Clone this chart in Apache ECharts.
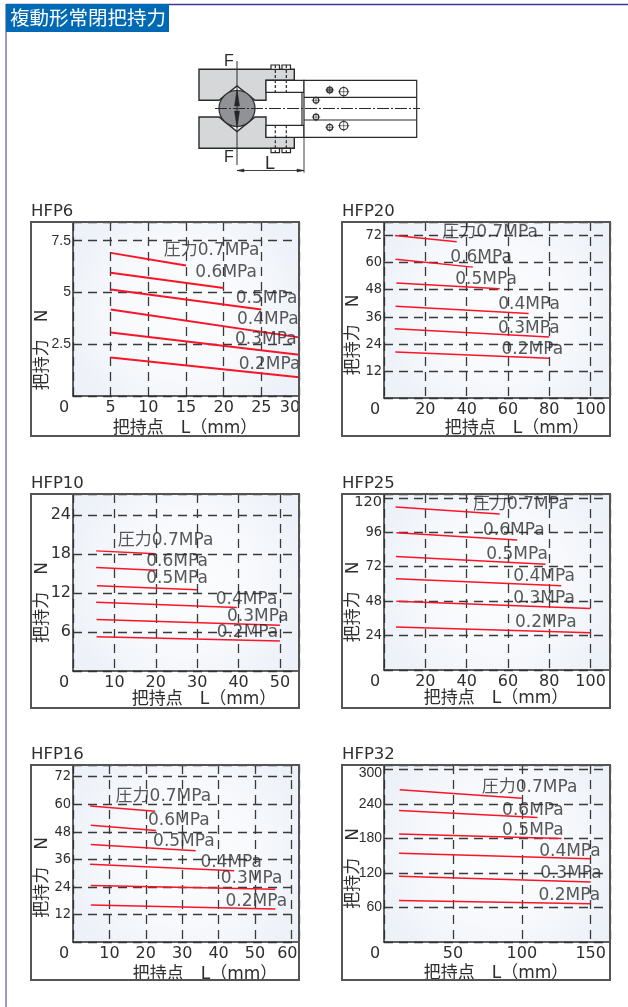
<!DOCTYPE html>
<html>
<head>
<meta charset="utf-8">
<style>html,body{margin:0;padding:0;background:#fff}#main{width:628px;height:1007px}</style>
<script src="https://cdn.jsdelivr.net/npm/echarts@6/dist/echarts.min.js"></script>
</head>
<body>
<div id="main"></div>
<script>
const pressureNames = ['圧力0.7MPa', '0.6MPa', '0.5MPa', '0.4MPa', '0.3MPa', '0.2MPa'];

// each line: [L start, N start, L end, N end]
const hfp6Lines = [[5, 6.91, 15, 6.30], [5, 5.95, 20, 5.21], [5, 5.14, 25, 4.18], [5, 4.18, 30, 2.83], [5, 3.07, 30, 1.99], [5, 1.86, 30, 0.90]];
const hfp20Lines = [[5.3, 72, 35.2, 69.2], [5.6, 61.5, 43, 58], [6, 51, 56, 48.4], [5.6, 40.7, 70, 37.4], [5.2, 30.7, 80, 27], [5.5, 20.4, 80, 17.6]];
const hfp10Lines = [[5.6, 18.46, 20, 18], [5.6, 15.9, 20, 15.5], [5.8, 13.1, 30, 12.5], [5.6, 10.56, 39.6, 9.74], [5.7, 7.9, 50, 7.03], [5.7, 5.28, 50, 4.6]];
const hfp25Lines = [[5.6, 113.7, 56, 108.8], [6, 95.6, 64.5, 90.7], [5.8, 79.1, 78.2, 73.8], [5.8, 63.6, 85.8, 58.7], [6, 48, 100, 42.9], [5.8, 29.9, 100, 26]];
const hfp16Lines = [[4.7, 59.2, 22.6, 57], [4.9, 50.9, 22.8, 48.6], [4.9, 42.5, 33.7, 39.7], [4.7, 33.9, 44.3, 31], [4.9, 24.6, 55.6, 23], [4.9, 16.1, 55.6, 14.4]];
const hfp32Lines = [[11.4, 265, 100, 250], [10.9, 228.7, 111.4, 216.5], [10.9, 188, 128.8, 180], [10.9, 154.4, 150, 145], [10.9, 114.3, 150, 104.5], [10.9, 72, 150, 66.7]];

// where each pressure text starts, in axis values
const hfp6Notes = [[12.04, 7.04], [16.24, 5.98], [21.6, 4.69], [21.77, 3.70], [21.5, 2.70], [22, 1.51]];
const hfp20Notes = [[28.2, 73.5], [32.1, 62.3], [34.5, 52.5], [55.3, 41.2], [55.2, 30.8], [56.9, 21.4]];
const hfp10Notes = [[10.8, 20.1], [17.7, 16.8], [17.7, 14.2], [34.5, 11], [37.2, 8.4], [34.7, 5.95]];
const hfp25Notes = [[43.1, 115.3], [47.9, 97], [49.5, 80.3], [62.6, 65], [62.6, 49.7], [63.4, 33.2]];
const hfp16Notes = [[11.7, 63.3], [20.6, 53.1], [22, 43.9], [35, 34.6], [40.6, 27.8], [41.9, 17.7]];
const hfp32Notes = [[70.9, 268.7], [85.7, 229.3], [85.7, 194.4], [112.6, 157.9], [113.3, 118.4], [112.1, 81.3]];

const CJK = '"DejaVu Sans","Noto Sans CJK JP",sans-serif';
const TXT = '#2e2e2e';
const WIDE = '"DejaVu Sans",sans-serif';
const COND = '"DejaVu Sans Condensed","Liberation Sans Narrow",sans-serif';
const NARROW = '"Liberation Sans Narrow",sans-serif';

const panels = [
  {title: 'HFP6', lines: hfp6Lines, notes: hfp6Notes, box: [31, 222, 299, 436], left: 73, bottom: 396,
   xMax: 30, xStep: 5, yMax: 8.4, yStep: 2.5, yFont: NARROW, ySize: 14, lw: 2, yPad: 82, xPad: 2, xGap: 24, xLast: 30},
  {title: 'HFP20', lines: hfp20Lines, notes: hfp20Notes, box: [342, 222, 610, 436], left: 384, bottom: 398,
   xMax: 109.4, xStep: 20, yMax: 78, yStep: 12, yFont: COND, ySize: 14.5, lw: 1.5, yPad: 50, xPad: -40, xGap: 22},
  {title: 'HFP10', lines: hfp10Lines, notes: hfp10Notes, box: [31, 494, 299, 708], left: 73, bottom: 671,
   xMax: 54.6, xStep: 10, yMax: 27.2, yStep: 6, yFont: WIDE, ySize: 16, lw: 1.5, yPad: 40, xPad: -36, xGap: 20},
  {title: 'HFP25', lines: hfp25Lines, notes: hfp25Notes, box: [342, 494, 610, 708], left: 384, bottom: 670,
   xMax: 109.4, xStep: 20, yMax: 122.7, yStep: 24, yFont: COND, ySize: 14.5, lw: 1.5, yPad: 40, xPad: 2, xGap: 20, yTop: 120},
  {title: 'HFP16', lines: hfp16Lines, notes: hfp16Notes, box: [31, 765, 299, 980], left: 73, bottom: 942,
   xMax: 62.1, xStep: 10, yMax: 77.1, yStep: 12, yFont: COND, ySize: 14.5, lw: 1.5, yPad: 48, xPad: -38, xGap: 24, xLast: 60},
  {title: 'HFP32', lines: hfp32Lines, notes: hfp32Notes, box: [342, 765, 610, 980], left: 384, bottom: 942,
   xMax: 164, xStep: 50, yMax: 308, yStep: 60, yFont: NARROW, ySize: 14, lw: 1.5, yPad: 30, xPad: 2, xGap: 23, yTop: 300}
];

const gridLine = {show: true, lineStyle: {color: '#3a3a3a', width: 1.3, type: [9, 6]}};
const plotFill = {type: 'radial', x: 0.5, y: 0.5, r: 0.72, colorStops: [
  {offset: 0, color: '#fcfdfe'}, {offset: 0.55, color: '#f7f9fc'}, {offset: 1, color: '#edf1f8'}]};

const grids = [], xAxes = [], yAxes = [], series = [], graphics = [];

panels.forEach((p, i) => {
  const [x0, y0, x1, y1] = p.box;
  grids.push({left: p.left, top: y0, width: x1 - p.left, height: p.bottom - y0,
    show: true, backgroundColor: plotFill, borderWidth: 0});
  xAxes.push({
    gridIndex: i, type: 'value', min: 0, max: p.xMax, interval: p.xStep,
    name: '把持点　L（mm）', nameLocation: 'middle', nameGap: p.xGap, nameMoveOverlap: false,
    nameTextStyle: {fontFamily: CJK, fontSize: 17, color: TXT, padding: p.xPad > 0 ? [0, p.xPad, 0, 0] : [0, 0, 0, -p.xPad]},
    axisLine: {show: true, onZero: false, lineStyle: {color: '#2f2f2f', width: 1.5}},
    axisTick: {show: false}, splitLine: gridLine,
    axisLabel: {
      margin: 4, fontFamily: WIDE, fontSize: 16, color: TXT, showMinLabel: true, hideOverlap: false,
      // the 0 and the last label sit left of their tick in the original
      formatter: v => v === 0 ? '{z|0}' : v === p.xLast ? '{e|' + v + '}' : (v % p.xStep ? '' : String(v)),
      rich: {
        z: {padding: [0, 18, 0, 0], fontFamily: WIDE, fontSize: 16, color: TXT},
        e: {padding: [0, p.title === 'HFP6' ? 18 : 8, 0, 0], fontFamily: WIDE, fontSize: 16, color: TXT}
      }
    }
  });
  yAxes.push({
    gridIndex: i, type: 'value', min: 0, max: p.yMax, interval: p.yStep,
    name: '把持力　N', nameLocation: 'middle', nameRotate: 90, nameGap: 22, nameMoveOverlap: false,
    nameTextStyle: {fontFamily: CJK, fontSize: 17, color: TXT, padding: [0, p.yPad, 0, 0]},
    axisLine: {show: true, onZero: false, lineStyle: {color: '#2f2f2f', width: 1.5}},
    axisTick: {show: false}, splitLine: gridLine,
    axisLabel: {
      margin: 2, showMinLabel: false, hideOverlap: false, fontFamily: p.yFont, fontSize: p.ySize, color: TXT,
      formatter: v => v === p.yTop ? '{t|' + v + '}' : (Math.abs(v / p.yStep - Math.round(v / p.yStep)) > 1e-6 ? '' : String(v)),
      rich: {t: {padding: [8, 0, 0, 0], fontFamily: p.title === 'HFP25' ? WIDE : p.yFont, fontSize: p.ySize, color: TXT}}
    }
  });
  p.lines.forEach((l, j) => {
    series.push({
      name: p.title + ' ' + pressureNames[j], type: 'line', xAxisIndex: i, yAxisIndex: i,
      showSymbol: false, silent: true, z: 3, animation: false,
      lineStyle: {color: '#fa1428', width: p.lw},
      data: [[l[0], l[1]], [l[2], l[3]]]
    });
  });
  series.push({
    type: 'scatter', xAxisIndex: i, yAxisIndex: i, symbolSize: 0, silent: true, z: 4, animation: false,
    label: {show: true, position: 'right', distance: 0, fontFamily: CJK, fontSize: 17, color: TXT,
      formatter: o => pressureNames[o.dataIndex]},
    data: p.notes
  });
  graphics.push({type: 'rect', z: 20, silent: true, shape: {x: x0, y: y0, width: x1 - x0, height: y1 - y0},
    style: {fill: 'none', stroke: '#555', lineWidth: 2}});
  graphics.push({type: 'text', z: 20, silent: true, x: x0, y: y0 - 19,
    style: {text: p.title, font: '16.5px ' + WIDE, fill: TXT}});
});

// page frame and heading
graphics.push(
  {type: 'line', silent: true, shape: {x1: 6, y1: 4.5, x2: 628, y2: 4.5}, style: {stroke: '#3a3a9a', lineWidth: 1.5}},
  {type: 'line', silent: true, shape: {x1: 6, y1: 4, x2: 6, y2: 1007}, style: {stroke: '#7a7ac4', lineWidth: 1.5}},
  {type: 'rect', silent: true, shape: {x: 6, y: 4, width: 163, height: 28}, style: {fill: '#0069b4'}},
  {type: 'text', silent: true, x: 10, y: 7.5, style: {text: '複動形常閉把持力', font: '19.5px "Noto Sans CJK JP"', fill: '#fff'}}
);

// the gripper drawing, in its own local coordinates (offset 190,50)
const ink = '#2a2a2a';
const part = (shape, fill, lineWidth) => ({type: 'polygon', shape: {points: shape}, style: {fill: fill, stroke: ink, lineWidth: lineWidth || 1.2}});
const ln = (x1, y1, x2, y2, extra) => ({type: 'line', shape: {x1, y1, x2, y2}, style: Object.assign({stroke: ink, lineWidth: 1.2}, extra)});
const ring = (cx, cy, r, fill) => ({type: 'circle', shape: {cx, cy, r}, style: {fill: fill, stroke: ink, lineWidth: 1.2}});
const box = (x, y, w, h, fill) => ({type: 'rect', shape: {x, y, width: w, height: h}, style: {fill: fill, stroke: ink, lineWidth: 1.2}});
const jawGrey = '#d5d7d9';
const screws = [[139.7, 40, 3, '#8a8a8a'], [153.7, 41.7, 4.2, '#fff'], [126, 50.3, 2.8, '#fff'], [126, 67, 2.8, '#fff'], [139.7, 77.3, 3, '#fff'], [153.7, 75.7, 4.2, '#fff']];
const drawing = [
  part([[9, 19.3], [104.3, 19.3], [104.3, 30.3], [76, 30.3], [76, 50.3], [65, 50.3], [47, 36], [29, 50.3], [9, 50.3]], jawGrey, 1.4),
  part([[9, 98.3], [104.3, 98.3], [104.3, 87.3], [76, 87.3], [76, 67], [65, 67], [47, 81.5], [29, 67], [9, 67]], jawGrey, 1.4),
  box(76, 30.3, 38, 12, '#fff'), box(76, 75.3, 38, 12, '#fff'),
  box(114, 30.3, 112.7, 57, '#fff'),
  ln(114, 47.3, 226.7, 47.3), ln(114, 70, 226.7, 70),
  ln(112, 42.3, 112, 75.3),
  ring(47, 58.5, 18, '#909296'),
  part([[47, 39.5], [49.5, 56], [44.5, 56]], '#222', 0.5),
  part([[47, 78], [49.5, 61], [44.5, 61]], '#222', 0.5),
  box(81, 15, 8.5, 4.3, '#fff'), box(92, 15, 8.5, 4.3, '#fff'), box(81, 98.3, 8.5, 4.3, '#fff'), box(92, 98.3, 8.5, 4.3, '#fff'),
  ln(85.3, 15, 85.3, 42.3, {lineDash: [3, 2]}), ln(96.3, 15, 96.3, 42.3, {lineDash: [3, 2]}),
  ln(85.3, 75.3, 85.3, 102.6, {lineDash: [3, 2]}), ln(96.3, 75.3, 96.3, 102.6, {lineDash: [3, 2]}),
  ...screws.flatMap(s => [ring(s[0], s[1], s[2], s[3]), ln(s[0] - s[2] - 1.5, s[1], s[0] + s[2] + 1.5, s[1], {lineWidth: 0.6}), ln(s[0], s[1] - s[2] - 1.5, s[0], s[1] + s[2] + 1.5, {lineWidth: 0.6})]),
  ln(25, 58.5, 230, 58.5, {lineDash: [12, 2, 2, 2], lineWidth: 1}),
  ln(47, 11, 47, 115, {lineWidth: 1}),
  ln(114, 87.3, 114, 122.7, {lineWidth: 0.9}),
  ln(47, 120.5, 114, 120.5, {lineWidth: 0.9}),
  part([[47, 120.5], [54, 119], [54, 122]], ink, 0.5), part([[114, 120.5], [107, 119], [107, 122]], ink, 0.5),
  {type: 'text', x: 34, y: 4, style: {text: 'F', font: '16px "Liberation Sans"', fill: ink}},
  {type: 'text', x: 34, y: 100, style: {text: 'F', font: '16px "Liberation Sans"', fill: ink}},
  {type: 'text', x: 75, y: 105, style: {text: 'L', font: '18px "Liberation Sans"', fill: ink}}
];
graphics.push({type: 'group', x: 190, y: 50, silent: true, z: 20, children: drawing});

const myChart = echarts.init(document.getElementById('main'), null, {renderer: 'canvas'});
myChart.setOption({
  animation: false, backgroundColor: '#fff', tooltip: {show: false}, legend: {show: false},
  grid: grids, xAxis: xAxes, yAxis: yAxes, series: series, graphic: graphics
});
</script>
</body>
</html>
